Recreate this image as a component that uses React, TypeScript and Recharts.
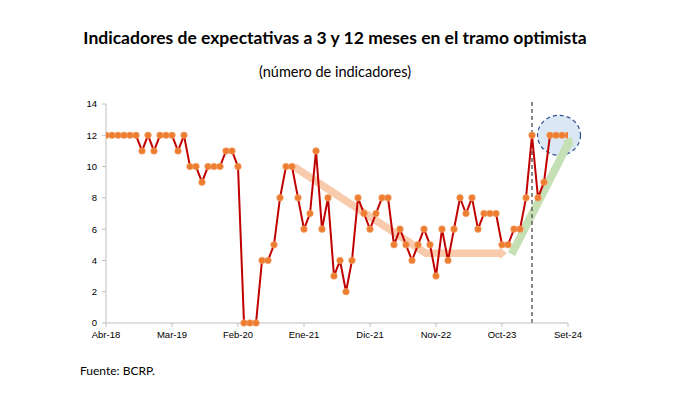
import React from "react";
import {
  ComposedChart,
  Line,
  XAxis,
  YAxis,
  ReferenceLine,
} from "recharts";

const months: string[] = [
  "Abr-18","May-18","Jun-18","Jul-18","Ago-18","Set-18","Oct-18","Nov-18","Dic-18",
  "Ene-19","Feb-19","Mar-19","Abr-19","May-19","Jun-19","Jul-19","Ago-19","Set-19","Oct-19","Nov-19","Dic-19",
  "Ene-20","Feb-20","Mar-20","Abr-20","May-20","Jun-20","Jul-20","Ago-20","Set-20","Oct-20","Nov-20","Dic-20",
  "Ene-21","Feb-21","Mar-21","Abr-21","May-21","Jun-21","Jul-21","Ago-21","Set-21","Oct-21","Nov-21","Dic-21",
  "Ene-22","Feb-22","Mar-22","Abr-22","May-22","Jun-22","Jul-22","Ago-22","Set-22","Oct-22","Nov-22","Dic-22",
  "Ene-23","Feb-23","Mar-23","Abr-23","May-23","Jun-23","Jul-23","Ago-23","Set-23","Oct-23","Nov-23","Dic-23",
  "Ene-24","Feb-24","Mar-24","Abr-24","May-24","Jun-24","Jul-24","Ago-24","Set-24",
];

const indicadores: number[] = [
  12, 12, 12, 12, 12, 12, 11, 12, 11,
  12, 12, 12, 11, 12, 10, 10, 9, 10, 10, 10, 11,
  11, 10, 0, 0, 0, 4, 4, 5, 8, 10, 10, 8,
  6, 7, 11, 6, 8, 3, 4, 2, 4, 8, 7, 6,
  7, 8, 8, 5, 6, 5, 4, 5, 6, 5, 3, 6,
  4, 6, 8, 7, 8, 6, 7, 7, 7, 5, 5, 6,
  6, 8, 12, 8, 9, 12, 12, 12, 12,
];

const xTickLabels: string[] = ["Abr-18", "Mar-19", "Feb-20", "Ene-21", "Dic-21", "Nov-22", "Oct-23", "Set-24"];
const yTicks: number[] = [0, 2, 4, 6, 8, 10, 12, 14];

// annotation anchors (in data units: month index, value)
const orangeDiag = [{ x: 31.3, y: 10 }, { x: 53.3, y: 4.46 }];
const orangeFlat = [{ x: 53.0, y: 4.46 }, { x: 66.8, y: 4.46 }];
const greenArrow = [{ x: 67.6, y: 4.4 }, { x: 77.6, y: 11.9 }];
const dividerMonth = "Mar-24";
const highlight = { x: 75.5, y: 12 };

const data = months.map((m, i) => ({ i, month: m, value: indicadores[i] }));
const xTicks = xTickLabels.map((l) => months.indexOf(l));

const makeArrow = (color: string, width: number, headLen: number, headHalf: number) => (props: any) => {
  const { x1, y1, x2, y2 } = props;
  const ang = Math.atan2(y2 - y1, x2 - x1);
  const cos = Math.cos(ang);
  const sin = Math.sin(ang);
  const bx = x2 - headLen * cos;
  const by = y2 - headLen * sin;
  const px = -sin;
  const py = cos;
  return (
    <g>
      <line x1={x1} y1={y1} x2={bx + cos} y2={by + sin} stroke={color} strokeWidth={width} />
      <polygon
        points={`${x2},${y2} ${bx + px * headHalf},${by + py * headHalf} ${bx - px * headHalf},${by - py * headHalf}`}
        fill={color}
      />
    </g>
  );
};

const OrangeArrow = makeArrow("#F8CBAD", 7.5, 7, 6);
const GreenArrow = makeArrow("#C5E0B4", 8, 8, 6.5);

const Dot = (props: any) => {
  const { cx, cy, index } = props;
  if (cx == null || cy == null) return <g key={index} />;
  return <circle key={index} cx={cx} cy={cy} r={3.3} fill="#ED7D31" stroke="#F4A36A" strokeWidth={0.6} />;
};

const HighlightShape = (props: any) => {
  const { x1, y1, x2, y2 } = props;
  return (
    <ellipse
      cx={(x1 + x2) / 2}
      cy={(y1 + y2) / 2}
      rx={21.5}
      ry={20}
      fill="#DCE7F5"
      stroke="#2F4F8F"
      strokeWidth={1.2}
      strokeDasharray="4 3"
    />
  );
};

export default function App() {
  const font = "Lato, 'Open Sans', sans-serif";
  return (
    <div style={{ position: "absolute", left: 0, top: 0, width: 700, height: 395, background: "#fff", overflow: "hidden" }}>
      <div
        style={{
          position: "absolute",
          top: 27,
          left: 0,
          width: 670,
          textAlign: "center",
          fontFamily: font,
          fontWeight: 700,
          fontSize: 17.5,
          color: "#000",
          whiteSpace: "nowrap",
        }}
      >
        Indicadores de expectativas a 3 y 12 meses en el tramo optimista
      </div>
      <div
        style={{
          position: "absolute",
          top: 63,
          left: 0,
          width: 670,
          textAlign: "center",
          fontFamily: font,
          fontSize: 14.5,
          color: "#000",
          whiteSpace: "nowrap",
        }}
      >
        (número de indicadores)
      </div>
      <div
        style={{
          position: "absolute",
          top: 363,
          left: 80,
          fontFamily: font,
          fontSize: 12,
          color: "#000",
          whiteSpace: "nowrap",
        }}
      >
        Fuente: BCRP.
      </div>
      <div style={{ position: "absolute", left: 0, top: 0 }}>
        <ComposedChart width={700} height={395} data={data} margin={{ top: 104, right: 132, bottom: 42, left: 76 }}>
          <XAxis
            dataKey="i"
            type="number"
            domain={[0, 77]}
            ticks={xTicks}
            tickFormatter={(v: number) => months[v]}
            axisLine={{ stroke: "#BFBFBF" }}
            tickLine={{ stroke: "#BFBFBF" }}
            tickSize={4}
            tickMargin={4}
            height={30}
            tick={{ fontSize: 9.5, fill: "#000", fontFamily: "'Liberation Sans', Arial, sans-serif" }}
            interval={0}
            allowDataOverflow
          />
          <YAxis
            type="number"
            domain={[0, 14]}
            ticks={yTicks}
            width={30}
            axisLine={{ stroke: "#BFBFBF" }}
            tickLine={{ stroke: "#BFBFBF" }}
            tickSize={4}
            tickMargin={5}
            tick={{ fontSize: 9.5, fill: "#000", fontFamily: "'Liberation Sans', Arial, sans-serif" }}
            interval={0}
          />
          <ReferenceLine
            segment={orangeDiag}
            stroke="#F8CBAD"
            strokeWidth={7.5}
            ifOverflow="visible"
          />
          <ReferenceLine segment={orangeFlat} shape={OrangeArrow} ifOverflow="visible" />
          <ReferenceLine
            segment={[highlight, highlight]}
            shape={HighlightShape}
            ifOverflow="visible"
          />
          <ReferenceLine segment={greenArrow} shape={GreenArrow} ifOverflow="visible" />
          <ReferenceLine
            segment={[
              { x: months.indexOf(dividerMonth), y: 0 },
              { x: months.indexOf(dividerMonth), y: 14.25 },
            ]}
            stroke="#595959"
            strokeWidth={1.4}
            strokeDasharray="4 3"
            ifOverflow="visible"
          />
          <Line
            dataKey="value"
            stroke="#C00000"
            strokeWidth={2}
            dot={Dot}
            activeDot={false}
            isAnimationActive={false}
          />
        </ComposedChart>
      </div>
    </div>
  );
}
